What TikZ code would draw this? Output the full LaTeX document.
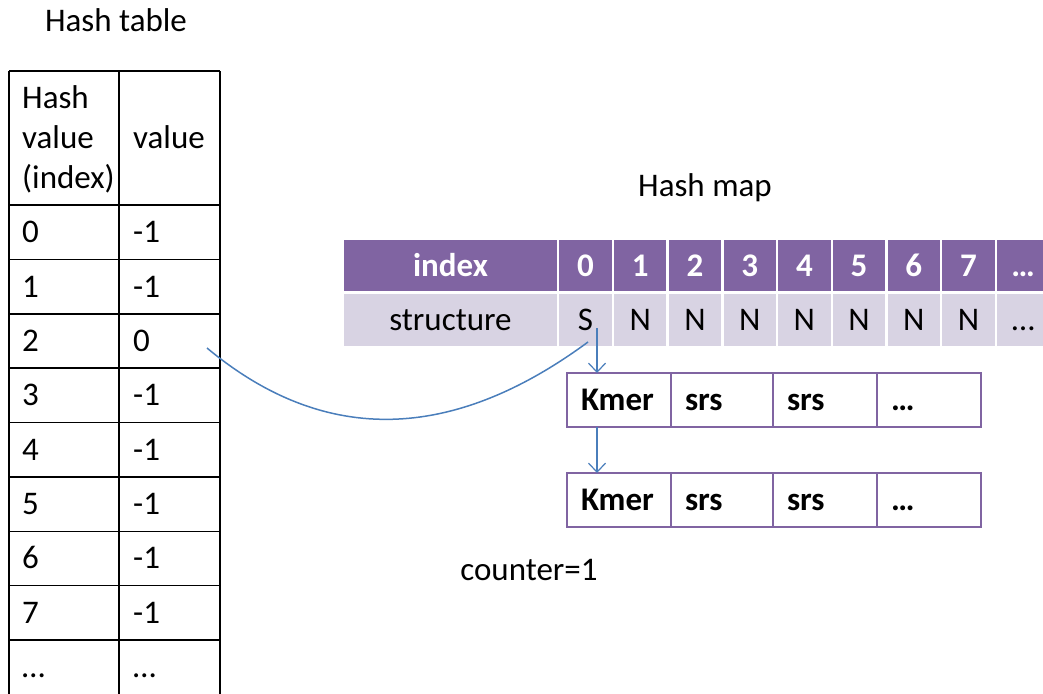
\documentclass[tikz,border=0pt]{standalone}
\usepackage{fontspec}
\setmainfont{Carlito}
\usetikzlibrary{positioning,arrows.meta}
\definecolor{morado}{RGB}{128,100,162}
\definecolor{lila}{RGB}{216,211,227}
\definecolor{azul}{RGB}{74,126,187}

\begin{document}
\begin{tikzpicture}[x=1pt, y=-1pt,
        font=\fontsize{33}{40}\selectfont,
        rejilla/.style={line width=1.6pt, color=black},
        texto/.style={anchor=west, inner sep=0pt, text height=21pt, text depth=0pt},
        cabecera/.style={fill=morado, text=white, font=\fontsize{33}{40}\selectfont\bfseries,
            minimum width=52.3pt, minimum height=51pt, inner sep=0pt, text height=21pt, text depth=0pt},
        fila/.style={fill=lila, minimum width=52.3pt, minimum height=52pt, inner sep=0pt,
            text height=21pt, text depth=0pt},
        caja/.style={draw=morado, line width=1.6pt, outer sep=0pt, minimum height=54pt,
            inner xsep=14pt, text width=76pt, align=left, text height=21pt, text depth=0pt,
            font=\fontsize{33}{40}\selectfont\bfseries},
        flecha/.style={-{Straight Barb[length=9pt, width=17pt]}, color=azul, line width=1.2pt},
        curva/.style={color=azul, line width=1.5pt}]
        \useasboundingbox (0,0) rectangle (1043,693);

        % Tabla hash
        \node (tituloT) at (116,20) {Hash table};
        \draw[rejilla] (9,71) -- (220,71);
        \draw[rejilla] (9,205) -- (220,205);
        \draw[rejilla] (9,259.4) -- (220,259.4);
        \draw[rejilla] (9,313.8) -- (220,313.8);
        \draw[rejilla] (9,368.1) -- (220,368.1);
        \draw[rejilla] (9,422.5) -- (220,422.5);
        \draw[rejilla] (9,476.9) -- (220,476.9);
        \draw[rejilla] (9,531.3) -- (220,531.3);
        \draw[rejilla] (9,585.6) -- (220,585.6);
        \draw[rejilla] (9,640) -- (220,640);
        \draw[rejilla] (9,71) -- (9,700);
        \draw[rejilla] (119,71) -- (119,700);
        \draw[rejilla] (220,71) -- (220,700);

        \node[anchor=west, align=left, inner sep=0pt] (cabH) at (22,139.5) {Hash\\value\\(index)};
        \node[texto] (cabV) at (133,138) {value};
        \node[texto] (i0) at (22,232) {0};   \node[texto] (v0) at (133,232) {-1};
        \node[texto] (i1) at (22,287) {1};   \node[texto] (v1) at (133,287) {-1};
        \node[texto] (i2) at (22,341) {2};   \node[texto] (v2) at (133,341) {0};
        \node[texto] (i3) at (22,395) {3};   \node[texto] (v3) at (133,395) {-1};
        \node[texto] (i4) at (22,450) {4};   \node[texto] (v4) at (133,450) {-1};
        \node[texto] (i5) at (22,504) {5};   \node[texto] (v5) at (133,504) {-1};
        \node[texto] (i6) at (22,558) {6};   \node[texto] (v6) at (133,558) {-1};
        \node[texto] (i7) at (22,613) {7};   \node[texto] (v7) at (133,613) {-1};
        \node[texto] (i8) at (22,667) {\dots}; \node[texto] (v8) at (133,667) {\dots};

        % Mapa hash
        \node (tituloM) at (705,188) {Hash map};
        \node[cabecera, minimum width=213pt] (hidx) at (450.5,265.5) {index};
        \node[cabecera, right=2pt of hidx] (h0) {0};
        \node[cabecera, right=2pt of h0] (h1) {1};
        \node[cabecera, right=2pt of h1] (h2) {2};
        \node[cabecera, right=2pt of h2] (h3) {3};
        \node[cabecera, right=2pt of h3] (h4) {4};
        \node[cabecera, right=2pt of h4] (h5) {5};
        \node[cabecera, right=2pt of h5] (h6) {6};
        \node[cabecera, right=2pt of h6] (h7) {7};
        \node[cabecera, right=2pt of h7] (h8) {\dots};

        \node[fila, minimum width=213pt] (sidx) at (450.5,320) {structure};
        \node[fila, right=2pt of sidx] (s0) {S};
        \node[fila, right=2pt of s0] (s1) {N};
        \node[fila, right=2pt of s1] (s2) {N};
        \node[fila, right=2pt of s2] (s3) {N};
        \node[fila, right=2pt of s3] (s4) {N};
        \node[fila, right=2pt of s4] (s5) {N};
        \node[fila, right=2pt of s5] (s6) {N};
        \node[fila, right=2pt of s6] (s7) {N};
        \node[fila, right=2pt of s7] (s8) {\dots};

        % Lista de kmers
        \node[caja] (k1) at (619,400) {Kmer};
        \node[caja, text width=74pt, right=0pt of k1] (ra1) {srs};
        \node[caja, right=0pt of ra1] (rb1) {srs};
        \node[caja, right=0pt of rb1] (d1) {\dots};

        \node[caja, below=46pt of k1] (k2) {Kmer};
        \node[caja, text width=74pt, right=0pt of k2] (ra2) {srs};
        \node[caja, right=0pt of ra2] (rb2) {srs};
        \node[caja, right=0pt of rb2] (d2) {\dots};

        \node (contador) at (529,570) {counter=1};

        % Enlaces
        \coordinate (pS) at (597,328);
        \draw[flecha] (pS) -- (pS |- k1.north);
        \draw[flecha] (pS |- k1.south) -- (pS |- k2.north);
        \coordinate (pH) at (207,348);
        \coordinate (pM) at (588,342);
        \draw[curva] (pH) .. controls +(120,100) and +(-133,98) .. (pM);
    \end{tikzpicture}
\end{document}
